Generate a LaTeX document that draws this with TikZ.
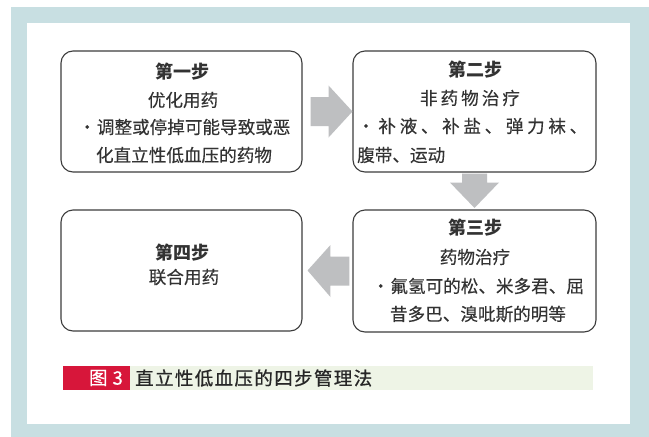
\documentclass[tikz,border=0pt]{standalone}
\usepackage{fontspec}
\setmainfont{Noto Sans CJK SC}
\newfontfamily\medfont[FakeBold=0.8]{Noto Sans CJK SC}
\newfontfamily\bodyfont[FakeBold=0.3]{Noto Sans CJK SC}
\usetikzlibrary{calc}
\definecolor{framebl}{HTML}{C8DFE2}
\definecolor{boxln}{HTML}{3C3C3C}
\definecolor{txtc}{HTML}{333333}
\definecolor{arrc}{HTML}{BEBFC1}
\definecolor{capred}{HTML}{D7163A}
\definecolor{capgreen}{HTML}{EEF4E6}
\tikzset{
  stepbox/.style={draw=boxln, line width=1.1pt, rounded corners=12pt, fill=white, inner sep=0pt},
  txt/.style={inner sep=0pt, text=txtc, font=\bodyfont\fontsize{17.6}{20}\selectfont},
  ttl/.style={inner sep=0pt, text=txtc, font=\fontsize{18}{20}\selectfont\bfseries},
  blockarrow/.style={fill=arrc, draw=none},
}
\begin{document}
\begin{tikzpicture}[x=1pt,y=-1pt]
\useasboundingbox (0,0) rectangle (649,437);
\fill[framebl] (11,7) rectangle (649,437);
\fill[white] (27,23) rectangle (630,424);

% boxes
\node[stepbox, minimum width=241pt, minimum height=121pt] (b1) at (181.5,111.5) {};
\node[stepbox, minimum width=243pt, minimum height=121pt] (b2) at (474.5,111.5) {};
\node[stepbox, minimum width=243pt, minimum height=122pt] (b3) at (474.5,271) {};
\node[stepbox, minimum width=241pt, minimum height=121pt] (b4) at (181.5,270.5) {};

% arrows
\fill[blockarrow] ($(b1.east)+(8,-14.5)$) -- ($(b1.east)+(26,-14.5)$) -- ($(b1.east)+(26,-26)$)
  -- (b2.west) -- ($(b1.east)+(26,26)$) -- ($(b1.east)+(26,14.5)$) -- ($(b1.east)+(8,14.5)$) -- cycle;
\fill[blockarrow] ($(b2.south)+(-12.5,1)$) -- ($(b2.south)+(-12.5,10)$) -- ($(b2.south)+(-24.5,10)$)
  -- ($(b3.north)+(0,-1.5)$) -- ($(b2.south)+(24.5,10)$) -- ($(b2.south)+(12.5,10)$) -- ($(b2.south)+(12.5,1)$) -- cycle;
\fill[blockarrow] ($(b3.west)+(-3,-14.5)$) -- ($(b3.west)+(-22,-14.5)$) -- ($(b3.west)+(-22,-26)$)
  -- ($(b4.east)+(5,0)$) -- ($(b3.west)+(-22,26)$) -- ($(b3.west)+(-22,14.5)$) -- ($(b3.west)+(-3,14.5)$) -- cycle;

% box 1 text
\node[ttl] (t1a) at (182,72) {第一步};
\node[txt] (t1b) at (183,100) {优化用药};
\node[txt] (t1c) at (184.5,127) {\makebox[212pt][s]{・\hfill 调整或停掉可能导致或恶}};
\node[txt] (t1d) at (184,155) {化直立性低血压的药物};

% box 2 text
\node[ttl] (t2a) at (475,70) {第二步};
\node[txt] (t2b) at (470,98) {\makebox[100pt][s]{非\hfill 药\hfill 物\hfill 治\hfill 疗}};
\node[txt, anchor=west] (t2c) at (357,126) {\makebox[230pt][s]{・\hfill 补\hfill 液\hfill 、\hfill 补\hfill 盐\hfill 、\hfill 弹\hfill 力\hfill 袜\hfill 、}};
\node[txt, anchor=west] (t2d) at (357,155) {腹带、运动};

% box 3 text
\node[ttl] (t3a) at (475,228) {第三步};
\node[txt] (t3b) at (475,257) {药物治疗};
\node[txt] (t3c) at (478,286) {\makebox[212pt][s]{・\hfill 氟氢可的松、米多君、屈}};
\node[txt] (t3d) at (478,314) {昔多巴、溴吡斯的明等};

% box 4 text
\node[ttl] (t4a) at (182,253) {第四步};
\node[txt] (t4b) at (184,277) {联合用药};

% caption
\fill[capgreen] (130,366) rectangle (593,390);
\fill[capred] (63,366) rectangle (130,390);
\node[inner sep=0pt, anchor=east, text=white, font=\medfont\fontsize{18.5}{20}\selectfont] (capnum) at (123,378) {图\hspace{5pt}3};
\node[inner sep=0pt, anchor=west, text=black!85, font=\medfont\fontsize{18.5}{20}\selectfont] (captxt) at (135,378) {\makebox[237pt][s]{直\hfill 立\hfill 性\hfill 低\hfill 血\hfill 压\hfill 的\hfill 四\hfill 步\hfill 管\hfill 理\hfill 法}};
\end{tikzpicture}
\end{document}
